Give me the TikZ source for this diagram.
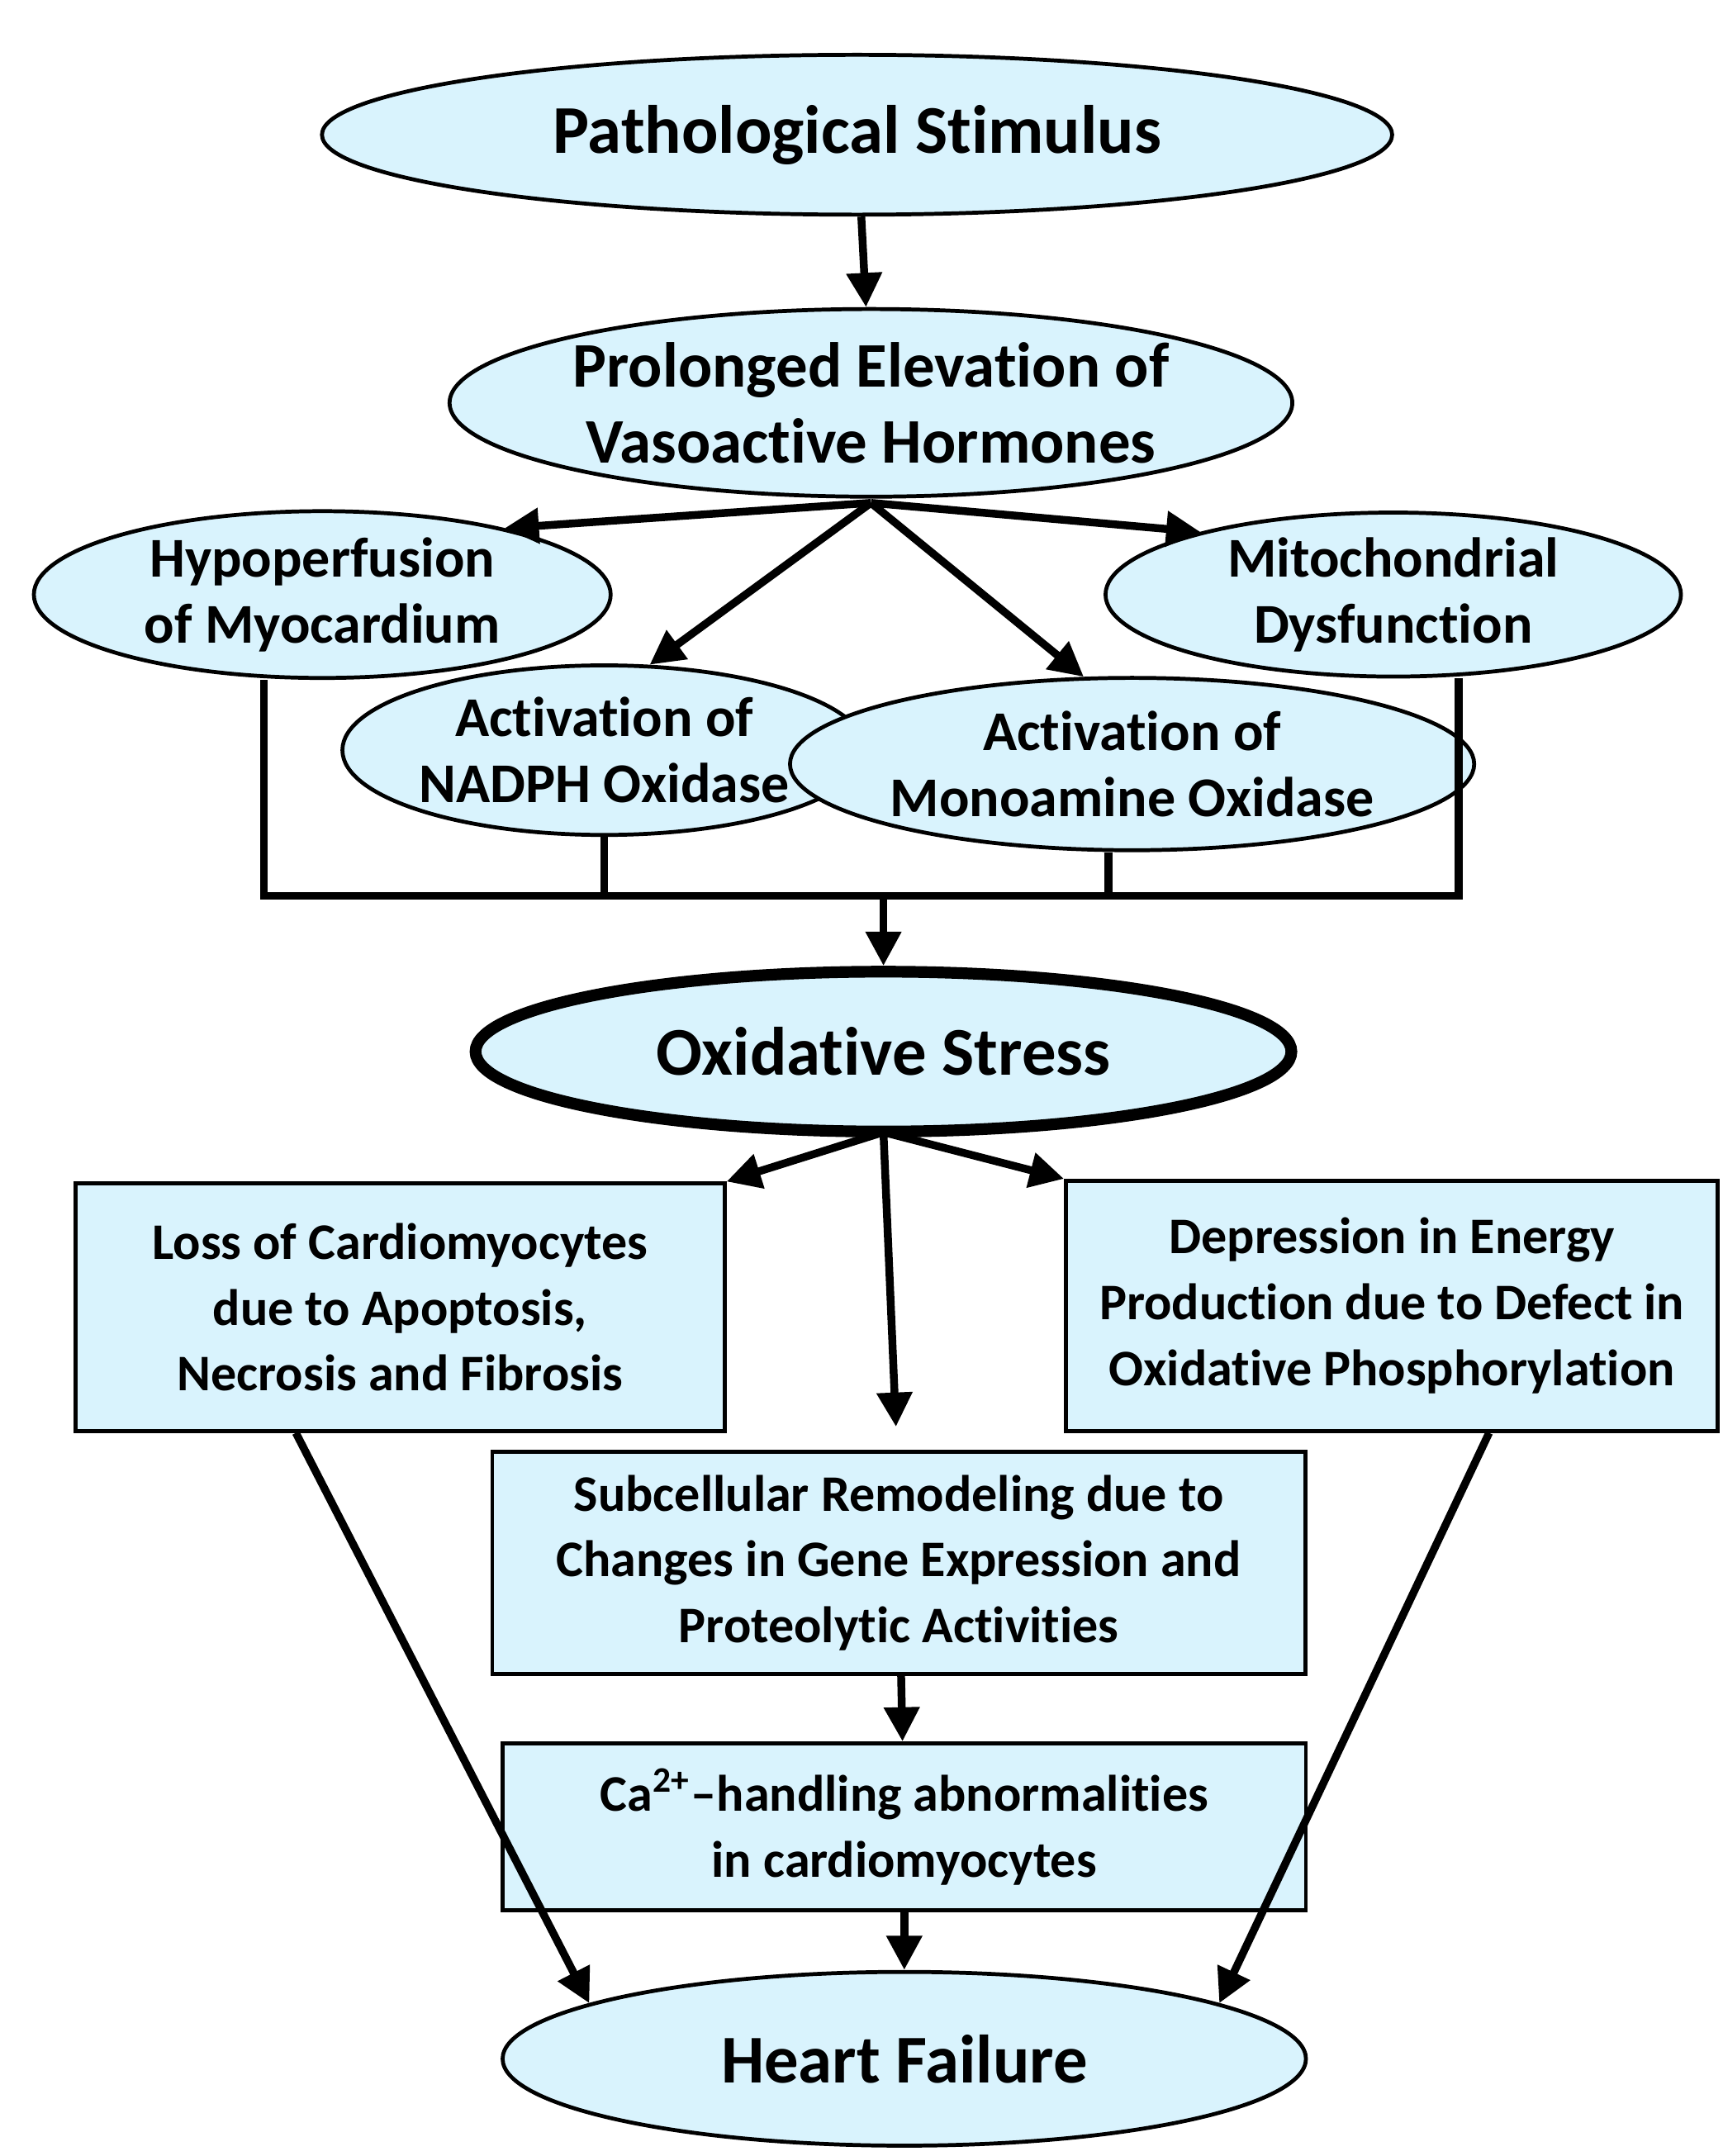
\documentclass[tikz,border=0pt]{standalone}
\usepackage{fontspec}
\setmainfont{Carlito}[RawFeature=-liga]
\usetikzlibrary{arrows.meta,shapes.geometric}
\tikzset{
  oval/.style={shape=ellipse,draw=black,thick,fill=cyan!15,font=\bfseries\fontsize{11.5}{13.5}\selectfont,align=center,inner sep=0pt},
  card/.style={shape=rectangle,draw=black,thick,fill=cyan!15,font=\bfseries\fontsize{10.5}{13.5}\selectfont,align=center,inner sep=0pt},
  link/.style={-{Triangle[length=7pt,width=7pt]},line width=1.6pt},
  wire/.style={line width=1.6pt}
}
\begin{document}
\begin{tikzpicture}[x=0.01cm,y=-0.01cm]
    \useasboundingbox (0,0) rectangle (1240,1552);
    \node[oval,minimum width=7.7cm,minimum height=1.15cm,font=\bfseries\fontsize{14}{16}\selectfont] (stim) at (617,97) {Pathological Stimulus};
    \node[oval,minimum width=5.5cm,minimum height=1.35cm,font=\bfseries\fontsize{13}{15.5}\selectfont] (horm) at (627,290) {Prolonged Elevation of\\Vasoactive Hormones};
    \node[oval,minimum width=4.15cm,minimum height=1.2cm] (hypo) at (232,428) {Hypoperfusion\\of Myocardium};
    \node[oval,minimum width=4.14cm,minimum height=1.18cm] (mito) at (1003,428) {Mitochondrial\\Dysfunction};
    \node[oval,minimum width=3.54cm,minimum height=1.22cm] (nadph) at (435,540) {Activation of\\NADPH Oxidase};
    \node[oval,minimum width=3.76cm,minimum height=1.24cm] (mao) at (815,550) {Activation of\\Monoamine Oxidase};
    \node[oval,line width=2.4pt,minimum width=5.87cm,minimum height=1.15cm,font=\bfseries\fontsize{14}{16}\selectfont] (ox) at (636,757) {Oxidative Stress};
    \node[card,minimum width=4.67cm,minimum height=1.78cm] (loss) at (288,941) {Loss of Cardiomyocytes\\due to Apoptosis,\\Necrosis and Fibrosis};
    \node[card,minimum width=4.69cm,minimum height=1.8cm] (dep) at (1002,940) {Depression in Energy\\Production due to Defect in\\Oxidative Phosphorylation};
    \node[card,minimum width=5.85cm,minimum height=1.6cm] (sub) at (647,1125) {Subcellular Remodeling due to\\Changes in Gene Expression and\\Proteolytic Activities};
    \node[card,minimum width=5.78cm,minimum height=1.2cm] (ca) at (651,1315) {Ca\textsuperscript{2+}--handling abnormalities\\in cardiomyocytes};
    \node[oval,minimum width=5.78cm,minimum height=1.25cm,font=\bfseries\fontsize{14}{16}\selectfont] (hf) at (651,1482) {Heart Failure};
    \coordinate (fork) at (627,362);
    \coordinate (join) at (636,645);
    \coordinate (split) at (636,815);
    \path [link] (stim) edge (horm);
    \path [link] (fork) edge (hypo.20);
    \path [link] (fork) edge (nadph.62);
    \path [link] (fork) edge (mao.119);
    \path [link] (fork) edge (mito.162);
    \draw [wire] (hypo.south -| 190,0) |- (1050,645) -- (mito.south -| 1050,0);
    \draw [wire] (nadph.south) -- (nadph.south |- join);
    \draw [wire] (mao.south -| 798,0) -- (798,645);
    \path [link] (join) edge (ox.north);
    \path [link] (split) edge (loss.north east);
    \path [link] (split) edge (645,1027);
    \path [link] (split) edge (dep.north west);
    \path [link] (sub) edge (ca);
    \path [link] (ca) edge (hf);
    \path [link] (loss.south) ++(-75,0) edge (hf.170);
    \path [link] (dep.south) ++(70,0) edge (hf.10);
\end{tikzpicture}
\end{document}
